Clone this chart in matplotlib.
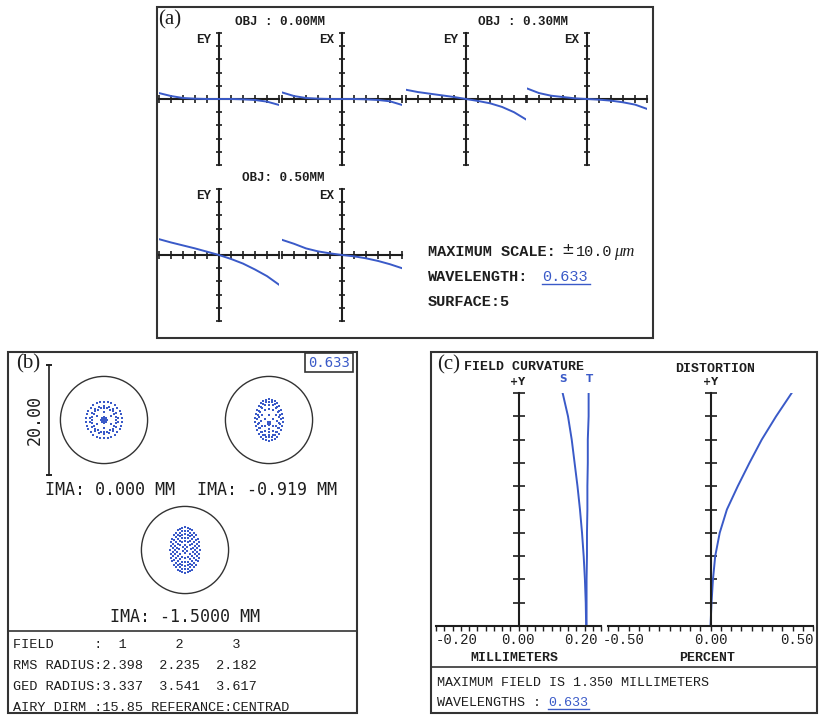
import numpy as np
import matplotlib
matplotlib.use("Agg")
import matplotlib.pyplot as plt
from matplotlib.patches import Rectangle, Circle

W, H = 821, 717
BLUE = "#3a5ac8"
INK = "#1e1e1e"
MONO = "Liberation Mono"
SMONO = "DejaVu Sans Mono"
SERIF = "Liberation Serif"

# ---- (a) ray fans, values in um at normalised pupil coordinate ----
pupil = [-1.0, -0.8, -0.6, -0.4, -0.2, 0.0, 0.2, 0.4, 0.6, 0.8, 1.0]
ey_000 = [0.9, 0.45, 0.15, 0.05, 0.0, 0.0, 0.0, -0.05, -0.15, -0.4, -0.9]
ex_000 = [1.0, 0.45, 0.15, 0.05, 0.0, 0.0, 0.0, -0.05, -0.15, -0.35, -0.9]
ey_030 = [1.4, 1.05, 0.8, 0.55, 0.3, 0.0, -0.3, -0.65, -1.2, -2.0, -3.1]
ex_030 = [1.6, 0.9, 0.5, 0.3, 0.1, 0.0, -0.1, -0.25, -0.5, -0.85, -1.5]
ey_050 = [2.4, 1.9, 1.45, 1.0, 0.5, 0.0, -0.6, -1.3, -2.2, -3.2, -4.5]
ex_050 = [2.3, 1.7, 1.0, 0.55, 0.25, 0.0, -0.2, -0.5, -0.9, -1.4, -2.0]
fan_scale = 10.0

# ---- (b) spot diagrams (um): ray rings, radius / ray count / vertical shift ----
airy_diam = 15.85
spot1_r = [0.0, 0.3, 0.55, 1.4, 2.2, 2.6, 3.3]
spot1_n = [1, 6, 8, 6, 24, 18, 30]
spot2_r = [0.0, 0.3, 1.2, 2.0, 2.6, 3.0, 3.5]
spot2_n = [1, 6, 6, 12, 18, 24, 30]
spot2_dy = [-0.6, -0.6, -0.4, -0.1, 0.0, 0.1, 0.0]
spot3_r = [0.0, 0.7, 1.4, 2.0, 2.6, 3.1, 3.7]
spot3_n = [1, 6, 12, 18, 24, 30, 36]
spot3_dy = [0.2, 0.2, 0.1, 0.0, 0.0, 0.0, 0.0]
ima_labels = ["IMA: 0.000 MM", "IMA: -0.919 MM", "IMA: -1.5000 MM"]
table_rows = [
    "FIELD     :  1      2      3",
    "RMS RADIUS:2.398  2.235  2.182",
    "GED RADIUS:3.337  3.541  3.617",
    "AIRY DIRM :15.85 REFERANCE:CENTRAD",
]

# ---- (c) field curvature (mm) and distortion (%) ----
field = [0.0, 0.1, 0.2, 0.3, 0.4, 0.5, 0.6, 0.7, 0.8, 0.9, 1.0]
fc_s = [0.164, 0.163, 0.161, 0.158, 0.154, 0.149, 0.143, 0.136, 0.129, 0.120, 0.107]
fc_t = [0.165, 0.165, 0.165, 0.166, 0.166, 0.167, 0.167, 0.168, 0.168, 0.170, 0.170]
dist = [0.0, 0.005, 0.012, 0.023, 0.045, 0.08, 0.133, 0.19, 0.25, 0.32, 0.396]

fig = plt.figure(figsize=(W / 100, H / 100), dpi=100)
bg = fig.add_axes([0, 0, 1, 1])
bg.set_xlim(0, W)
bg.set_ylim(H, 0)
bg.axis("off")


def px_axes(x0, y0, x1, y1):
    ax = fig.add_axes([x0 / W, 1 - y1 / H, (x1 - x0) / W, (y1 - y0) / H])
    ax.patch.set_visible(False)
    return ax


def txt(x, y, s, size=9.5, family=MONO, **kw):
    kw.setdefault("va", "center")
    kw.setdefault("color", INK)
    bg.text(x, y, s, fontsize=size, family=family, **kw)


# frames
for (x0, y0, x1, y1) in [(157, 7, 653, 338), (8, 352, 357, 713), (431, 352, 817, 713)]:
    bg.add_patch(Rectangle((x0, y0), x1 - x0, y1 - y0, fill=False, lw=1.5, ec="#333333"))
bg.plot([8, 357], [631, 631], color="#333333", lw=1.2)
bg.plot([431, 817], [667, 667], color="#333333", lw=1.2)


# ---------------- (a) ----------------
def fan(box, ys, name):
    ax = px_axes(*box)
    ax.set_xlim(-1, 1)
    ax.set_ylim(-fan_scale, fan_scale)
    for s in ["top", "right"]:
        ax.spines[s].set_visible(False)
    ax.spines["left"].set_position(("data", 0))
    ax.spines["bottom"].set_position(("data", 0))
    for s in ["left", "bottom"]:
        ax.spines[s].set_linewidth(1.5)
        ax.spines[s].set_color(INK)
    ax.set_xticks(pupil)
    ax.set_yticks(np.linspace(-fan_scale, fan_scale, 11))
    ax.tick_params(axis="x", direction="inout", length=6, width=1.2, color=INK)
    ax.tick_params(axis="y", direction="inout", length=5, width=1.2, color=INK)
    ax.tick_params(labelbottom=False, labelleft=False)
    ax.plot(pupil, ys, color=BLUE, lw=1.4, zorder=5)
    cx = (box[0] + box[2]) / 2
    txt(cx - 8, box[1] + 7, name, size=9, ha="right", weight="bold")


fan((159, 33, 279, 165), ey_000, "EY")
fan((282, 33, 402, 165), ex_000, "EX")
fan((406, 33, 526, 165), ey_030, "EY")
fan((527, 33, 647, 165), ex_030, "EX")
fan((159, 189, 279, 321), ey_050, "EY")
fan((282, 189, 402, 321), ex_050, "EX")

txt(280, 22, "OBJ : 0.00MM", size=9, ha="center", weight="bold")
txt(523, 22, "OBJ : 0.30MM", size=9, ha="center", weight="bold")
txt(283, 178, "OBJ: 0.50MM", size=9, ha="center", weight="bold")
txt(158, 20, "(a)", size=15, family=SERIF)

txt(428, 252, "MAXIMUM SCALE:", size=11, weight="bold")
txt(561, 250, "±", size=11, family="DejaVu Sans")
txt(576, 252, "10.0", size=11)
txt(614, 252, "μm", size=12, family=SERIF, style="italic")
txt(428, 277, "WAVELENGTH:", size=11, weight="bold")
txt(542, 277, "0.633", size=11, color=BLUE)
bg.plot([542, 590], [284, 284], color=BLUE, lw=1.0)
txt(428, 302, "SURFACE:5", size=11, weight="bold")


# ---------------- (b) ----------------
def spot(box, radii, counts, sx=1.0, sy=1.0, dys=None, scale_bar=False):
    ax = px_axes(*box)
    ax.set_xlim(-10, 10)
    ax.set_ylim(-10, 10)
    xs, ys = [], []
    for i, (r, n) in enumerate(zip(radii, counts)):
        dy = dys[i] if dys is not None else 0.0
        th = np.linspace(0, 2 * np.pi, n, endpoint=False) + np.pi / 2
        xs.extend(sx * r * np.cos(th))
        ys.extend(sy * r * np.sin(th) + dy)
    ax.plot(xs, ys, "s", color=BLUE, ms=2.0, mew=0)
    ax.add_patch(Circle((0, 0), airy_diam / 2, fill=False, lw=1.0, ec="#333333"))
    for s in ["top", "right", "bottom"]:
        ax.spines[s].set_visible(False)
    ax.set_xticks([])
    if scale_bar:
        ax.spines["left"].set_linewidth(1.2)
        ax.spines["left"].set_color(INK)
        ax.set_yticks([-10, 10])
        ax.tick_params(axis="y", direction="inout", length=5, width=1.2, labelleft=False)
        ax.set_ylabel("20.00", family=SMONO, fontsize=12, labelpad=1, color=INK)
    else:
        ax.spines["left"].set_visible(False)
        ax.set_yticks([])
    return ax


spot((49, 365, 159, 475), spot1_r, spot1_n, scale_bar=True)
spot((214, 365, 324, 475), spot2_r, spot2_n, 0.72, 1.08, spot2_dy)
spot((130, 495, 240, 605), spot3_r, spot3_n, 0.72, 1.12, spot3_dy)

txt(110, 490, ima_labels[0], size=12, family=SMONO, ha="center")
txt(267, 490, ima_labels[1], size=12, family=SMONO, ha="center")
txt(185, 617, ima_labels[2], size=12, family=SMONO, ha="center")
txt(16, 364, "(b)", size=15, family=SERIF)
bg.add_patch(Rectangle((305, 353), 48, 19, fill=False, lw=1.2, ec="#333333"))
txt(329, 363, "0.633", size=10, family=SMONO, ha="center", color=BLUE)

for i, row in enumerate(table_rows):
    txt(13, 645 + i * 21, row, size=9.7)


# ---------------- (c) ----------------
def curve_axes(box, lim, nside):
    ax = px_axes(*box)
    ax.set_xlim(-lim, lim)
    ax.set_ylim(0, 1)
    for s in ["top", "right"]:
        ax.spines[s].set_visible(False)
    ax.spines["left"].set_position(("data", 0))
    for s in ["left", "bottom"]:
        ax.spines[s].set_linewidth(1.5)
        ax.spines[s].set_color(INK)
    ax.set_xticks(np.linspace(-lim, lim, 2 * nside + 1))
    ax.set_yticks(field)
    ax.tick_params(axis="x", direction="out", length=3.5, width=1.0, color=INK)
    ax.tick_params(axis="y", direction="inout", length=9, width=1.2, color=INK)
    ax.tick_params(labelbottom=False, labelleft=False)
    return ax


fc = curve_axes((436, 393, 601, 626), 0.2, 10)
fc.plot(fc_s, field, color=BLUE, lw=1.4)
fc.plot(fc_t, field, color=BLUE, lw=1.4)
ds = curve_axes((608, 393, 813, 626), 0.5, 10)
ds.plot(dist, field, color=BLUE, lw=1.4)

txt(437, 365, "(c)", size=15, family=SERIF)
txt(464, 367, "FIELD CURVATURE", size=9.5, weight="bold")
txt(715, 369, "DISTORTION", size=9.5, ha="center", weight="bold")
txt(518, 382, "+Y", size=7, family="DejaVu Sans", ha="center", weight="bold")
txt(711, 382, "+Y", size=7, family="DejaVu Sans", ha="center", weight="bold")
txt(563, 379, "S", size=7.5, family="DejaVu Sans", ha="center", weight="bold", color=BLUE)
txt(589, 379, "T", size=7.5, family="DejaVu Sans", ha="center", weight="bold", color=BLUE)

txt(436, 640, "-0.20", size=10)
txt(518, 640, "0.00", size=10, ha="center")
txt(598, 640, "0.20", size=10, ha="right")
txt(603, 640, "-0.50", size=10)
txt(711, 640, "0.00", size=10, ha="center")
txt(814, 640, "0.50", size=10, ha="right")
txt(514, 658, "MILLIMETERS", size=9.5, ha="center", weight="bold")
txt(707, 658, "PERCENT", size=9.5, ha="center", weight="bold")

txt(437, 683, "MAXIMUM FIELD IS 1.350 MILLIMETERS", size=9.6)
txt(437, 703, "WAVELENGTHS :", size=9.6)
txt(548, 703, "0.633", size=9.6, color=BLUE)
bg.plot([548, 589], [709, 709], color=BLUE, lw=1.0)

fig.savefig("out.png", dpi=100)
